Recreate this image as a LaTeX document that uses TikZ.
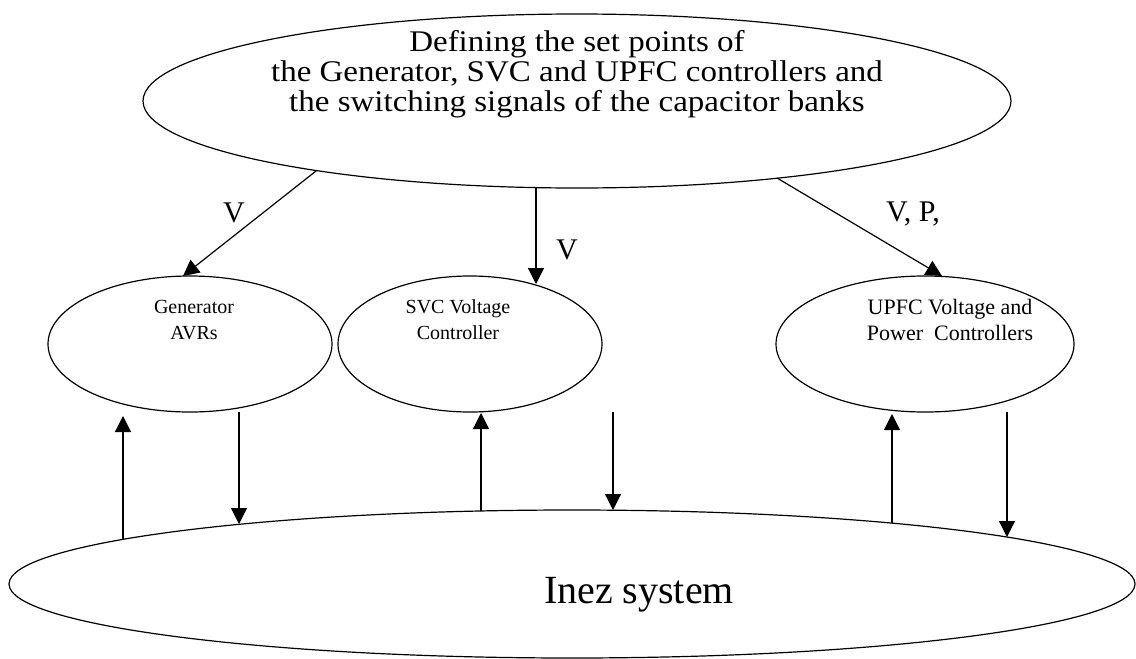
\documentclass[tikz,border=0pt]{standalone}
\usepackage{fontspec}
\setmainfont{Liberation Serif}
\newfontfamily\topfont[FakeStretch=1.1]{Liberation Serif}
\usetikzlibrary{shapes.geometric,arrows.meta}
\begin{document}
\begin{tikzpicture}[x=1pt,y=-1pt,
  oval/.style={draw,ellipse,line width=1.2pt,inner sep=0pt},
  arr/.style={-{Triangle[length=16pt,width=16pt]},line width=1.2pt},
  lbl/.style={font=\fontsize{30}{36}\selectfont,inner sep=0pt},
  small/.style={align=center,inner sep=0pt,font=\fontsize{20}{26}\selectfont}]
\useasboundingbox (0,0) rectangle (1136,659);
% ellipses
\node[oval,minimum width=868pt,minimum height=174pt] (top) at (577,101) {};
\node[align=center,inner sep=0pt,font=\topfont\fontsize{30}{30}\selectfont] (toptext) at (577,74)
  {Defining the set points of\\the Generator, SVC and UPFC controllers and\\the switching signals of the capacitor banks};
\node[oval,minimum width=284pt,minimum height=136pt] (gen) at (190,344) {};
\node[small] (gent) at (194,320) {Generator\\AVRs};
\node[oval,minimum width=264pt,minimum height=136pt] (svc) at (470,344) {};
\node[small] (svct) at (458,320) {SVC Voltage\\Controller};
\node[oval,minimum width=298pt,minimum height=136pt] (upfc) at (925,344) {};
\node[small,font=\fontsize{22}{26}\selectfont] (upfct) at (950,320) {UPFC Voltage and\\Power~~Controllers};
\node[oval,minimum width=1126pt,minimum height=148pt] (inez) at (572,584) {};
\node[font=\fontsize{40}{46}\selectfont] (inezt) at (639,595) {Inez system};
% top arrows
\coordinate (t1) at (316,171); \coordinate (g1) at (183,276);
\coordinate (t2) at (536,188); \coordinate (s1) at (536,284);
\coordinate (t3) at (777,178); \coordinate (u1) at (942,276);
\draw[arr] (t1) -- (g1);
\draw[arr] (t2) -- (s1);
\draw[arr] (t3) -- (u1);
\node[lbl] (l1) at (234,213) {V};
\node[lbl] (l2) at (567,250) {V};
\node[lbl] (l3) at (913,214) {V, P,};
% vertical arrows
\coordinate (a1) at (123,539); \coordinate (a2) at (123,416);
\coordinate (b1) at (239,412); \coordinate (b2) at (239,524);
\coordinate (c1) at (481,511); \coordinate (c2) at (481,413);
\coordinate (d1) at (613,412); \coordinate (d2) at (613,510);
\coordinate (e1) at (892,523); \coordinate (e2) at (892,414);
\coordinate (f1) at (1007,412); \coordinate (f2) at (1007,537);
\draw[arr] (a1) -- (a2);
\draw[arr] (b1) -- (b2);
\draw[arr] (c1) -- (c2);
\draw[arr] (d1) -- (d2);
\draw[arr] (e1) -- (e2);
\draw[arr] (f1) -- (f2);
\end{tikzpicture}
\end{document}
